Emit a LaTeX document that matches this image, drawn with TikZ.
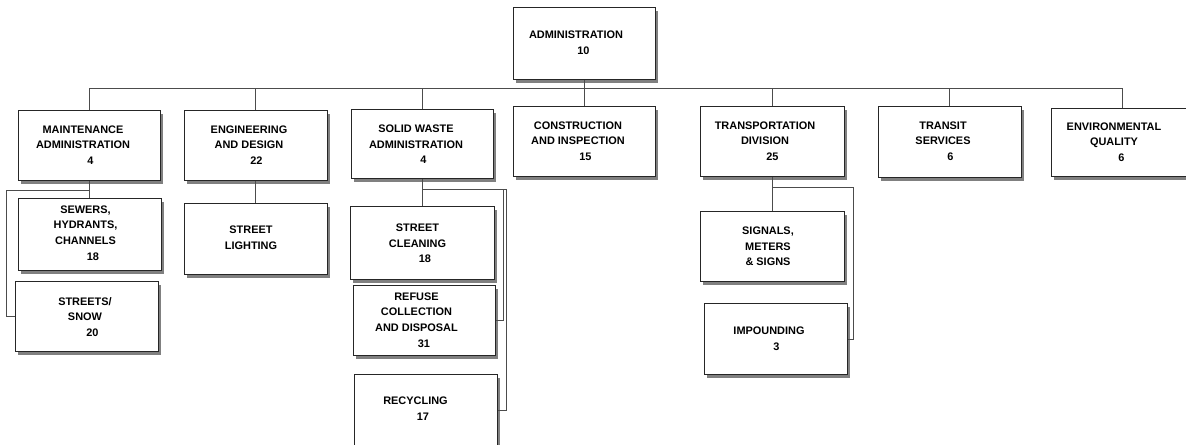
\documentclass[tikz,border=0pt]{standalone}
\usepackage{fontspec}
\setmainfont{Liberation Sans}
\usetikzlibrary{fit,calc}
\newcommand{\hnum}[1]{\hspace*{11pt}#1}
\newcommand{\orgbox}[5]{%
  \fill[shadowc] (#2+3,#3+3) rectangle (#4+3,#5+3);
  \node[boxst, fit={(#2,#3) (#4,#5)}] (#1) {};}
\tikzset{
  boxst/.style={draw=black!85, fill=white, inner sep=0pt, line width=0.75pt},
  shadowc/.style={fill=black!50},
  lbl/.style={align=center, font=\bfseries\fontsize{8.2}{11.7}\selectfont, inner sep=0pt, text=black},
  conn/.style={draw=black!70, line width=0.75pt}
}
\begin{document}
\begin{tikzpicture}[x=0.75pt,y=-0.75pt]
\useasboundingbox (0,0) rectangle (1186,445);
\clip (0,0) rectangle (1186,445);
% boxes
\orgbox{admin}{513}{8}{655}{80}
\orgbox{maint}{18}{111}{160}{181}
\orgbox{eng}{184}{111}{327}{181}
\orgbox{solid}{351}{110}{493}{179}
\orgbox{constr}{513}{107}{655}{177}
\orgbox{trans}{700}{107}{844}{177}
\orgbox{transit}{878}{107}{1021}{178}
\orgbox{env}{1051}{109}{1193}{177}
\orgbox{sewers}{18}{199}{161}{271}
\orgbox{streets}{15}{282}{158}{352}
\orgbox{lighting}{184}{204}{327}{275}
\orgbox{clean}{350}{207}{494}{280}
\orgbox{refuse}{353}{286}{495}{356}
\orgbox{recyc}{354}{375}{497}{447}
\orgbox{signals}{700}{212}{844}{282}
\orgbox{impound}{704}{304}{847}{375}
% labels
\node[lbl] (admin-t) at (576,43) {ADMINISTRATION\\\hnum{10}};
\node[lbl] (maint-t) at (83,145) {MAINTENANCE\\ADMINISTRATION\\\hnum{4}};
\node[lbl] (eng-t) at (249,145) {ENGINEERING\\AND DESIGN\\\hnum{22}};
\node[lbl] (solid-t) at (416,144.5) {SOLID WASTE\\ADMINISTRATION\\\hnum{4}};
\node[lbl] (constr-t) at (578,141) {CONSTRUCTION\\AND INSPECTION\\\hnum{15}};
\node[lbl] (trans-t) at (765,141) {TRANSPORTATION\\DIVISION\\\hnum{25}};
\node[lbl] (transit-t) at (943,141) {TRANSIT\\SERVICES\\\hnum{6}};
\node[lbl] (env-t) at (1114,142) {ENVIRONMENTAL\\QUALITY\\\hnum{6}};
\node[lbl] (sewers-t) at (85.5,233) {SEWERS,\\HYDRANTS,\\CHANNELS\\\hnum{18}};
\node[lbl] (streets-t) at (85,317) {STREETS/\\SNOW\\\hnum{20}};
\node[lbl] (lighting-t) at (251,238) {STREET\\LIGHTING};
\node[lbl] (clean-t) at (417.5,243.5) {STREET\\CLEANING\\\hnum{18}};
\node[lbl] (refuse-t) at (416.5,320) {REFUSE\\COLLECTION\\AND DISPOSAL\\\hnum{31}};
\node[lbl] (recyc-t) at (415.5,408.5) {RECYCLING\\\hnum{17}};
\node[lbl] (signals-t) at (768,246.5) {SIGNALS,\\METERS\\\& SIGNS};
\node[lbl] (impound-t) at (769,338.5) {IMPOUNDING\\\hnum{3}};
% connectors
\coordinate (bus) at (584,89);
\draw[conn] (admin.south) -- (constr.north);
\draw[conn] (maint.north) |- (bus);
\draw[conn] (env.north) |- (bus);
\draw[conn] (eng.north) -- (eng.north |- bus);
\draw[conn] (solid.north) -- (solid.north |- bus);
\draw[conn] (trans.north) -- (trans.north |- bus);
\draw[conn] (transit.north) -- (transit.north |- bus);
% maintenance children
\coordinate (mj) at (89,191);
\draw[conn] (maint.south) -- (maint.south |- sewers.north);
\draw[conn] (mj) -| ($(streets.west)+(-8,0)$) -- (streets.west);
% engineering child
\draw[conn] (eng.south) -- (eng.south |- lighting.north);
% solid waste children
\coordinate (sj) at (422,190);
\draw[conn] (solid.south) -- (solid.south |- clean.north);
\draw[conn] (sj) -| ($(refuse.east)+(8,0)$) -- (refuse.east);
\draw[conn] (sj) -| ($(recyc.east)+(9,0)$) -- (recyc.east);
% transportation children
\coordinate (tj) at (772,188);
\draw[conn] (trans.south) -- (trans.south |- signals.north);
\draw[conn] (tj) -| ($(impound.east)+(6,0)$) -- (impound.east);
\end{tikzpicture}
\end{document}
